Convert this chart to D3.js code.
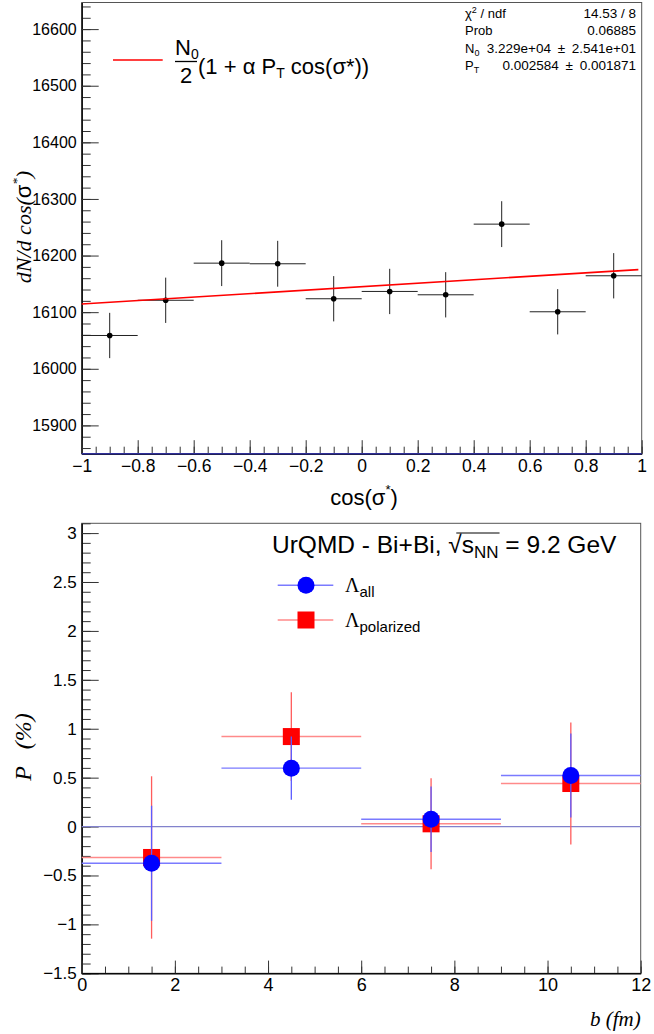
<!DOCTYPE html>
<html>
<head>
<meta charset="utf-8">
<script src="https://cdn.jsdelivr.net/npm/d3@7"></script>
<style>
  body { margin: 0; background: #fff; }
  svg { display: block; }
  .sans { font-family: "Liberation Sans", Arial, Helvetica, sans-serif; }
  .serif { font-family: "Liberation Serif", "Times New Roman", serif; }
</style>
</head>
<body>
<div id="chart"></div>
<script>
// ---- data: top pad (histogram + fit) ----
var topBins = [-0.9, -0.7, -0.5, -0.3, -0.1, 0.1, 0.3, 0.5, 0.7, 0.9];
var topCounts = [16058.8, 16121, 16186.6, 16185.5, 16123.7, 16136.6, 16130.7, 16255.5, 16100.7, 16164.3];
var topErrors = [40, 40, 40.5, 40.5, 40, 40, 40, 40.5, 40, 40];
var binHalf = 0.1;
var fitN0 = 32290, fitAlpha = 0.732, fitPT = 0.002584;
var statLabels = ["χ2 / ndf", "Prob", "N0", "PT"];
var statValues = ["14.53 / 8", "0.06885", "3.229e+04\u2002±\u20022.541e+01", "0.002584\u2002±\u20020.001871"];
var topYTicks = [15900, 16000, 16100, 16200, 16300, 16400, 16500, 16600];
var topXTicks = [-1, -0.8, -0.6, -0.4, -0.2, 0, 0.2, 0.4, 0.6, 0.8, 1];

// ---- data: bottom pad (polarization vs b) ----
var bCenters = [1.5, 4.5, 7.5, 10.5];
var bHalf = 1.5;
var allP = [-0.375, 0.597, 0.075, 0.522];
var allErr = [0.588, 0.324, 0.335, 0.43];
var polP = [-0.316, 0.92, 0.028, 0.44];
var polErr = [0.83, 0.454, 0.465, 0.624];
var botYTicks = [-1.5, -1, -0.5, 0, 0.5, 1, 1.5, 2, 2.5, 3];
var botXTicks = [0, 2, 4, 6, 8, 10, 12];

var W = 654, H = 1034;
var svg = d3.select("#chart").append("svg")
  .attr("width", W).attr("height", H);

svg.append("rect").attr("width", W).attr("height", H).attr("fill", "#fff");

// scales
var xTop = d3.scaleLinear().domain([-1, 1]).range([81.7, 641.7]);
var yTop = d3.scaleLinear().domain([15850, 16647]).range([453.7, 2.5]);
var xBot = d3.scaleLinear().domain([0, 12]).range([81.7, 640.7]);
var yBot = d3.scaleLinear().domain([-1.5, 3.1]).range([973.3, 523.3]);

// helper: draw an axis with major + minor ticks pointing into the frame
function drawAxis(kind, scale, pos, majors, minorStep, majLen, minLen, fmt, fontSize, pad) {
  var isLeft = kind == "left";
  var minors = [];
  var d = scale.domain();
  var lo = Math.min(d[0], d[1]), hi = Math.max(d[0], d[1]);
  for (var v = Math.ceil(lo / minorStep - 1e-6) * minorStep; v <= hi + 1e-9; v += minorStep) {
    minors.push(+v.toFixed(6));
  }
  var minorAxis = (isLeft ? d3.axisLeft(scale) : d3.axisBottom(scale))
    .tickValues(minors).tickSizeInner(-minLen).tickSizeOuter(0).tickFormat("");
  var majorAxis = (isLeft ? d3.axisLeft(scale) : d3.axisBottom(scale))
    .tickValues(majors).tickSizeInner(-majLen).tickSizeOuter(0)
    .tickPadding(pad).tickFormat(fmt);
  var tr = isLeft ? "translate(" + pos + ",0)" : "translate(0," + pos + ")";
  var gm = svg.append("g").attr("transform", tr).call(minorAxis);
  var gM = svg.append("g").attr("transform", tr).call(majorAxis);
  [gm, gM].forEach(function(g) {
    g.selectAll(".tick line").attr("stroke", "#333").attr("stroke-width", 1);
    g.select(".domain").attr("stroke", "#000").attr("stroke-width", 1);
  });
  gM.selectAll(".tick text")
    .attr("font-family", "Liberation Sans, Arial, sans-serif")
    .attr("font-size", fontSize)
    .attr("fill", "#000");
  return gM;
}

var minusFmt = function(v) { return d3.format("")(v).replace("-", "\u2212"); };

// ================= TOP PAD =================
svg.append("rect")
  .attr("x", xTop(-1)).attr("y", yTop(16647))
  .attr("width", xTop(1) - xTop(-1)).attr("height", yTop(15850) - yTop(16647))
  .attr("fill", "none").attr("stroke", "#555").attr("stroke-width", 1);

drawAxis("left", yTop, xTop(-1), topYTicks, 20, 17, 9, d3.format("d"), 16, 5);
drawAxis("bottom", xTop, yTop(15850), topXTicks, 0.05, 13.5, 7, minusFmt, 17.5, 5.5);

// blue line along the bottom
svg.append("line")
  .attr("x1", xTop(-1)).attr("x2", xTop(1))
  .attr("y1", yTop(15850)).attr("y2", yTop(15850))
  .attr("stroke", "#2f2f9a").attr("stroke-width", 1.6);

// error bars + points
var gTop = svg.append("g");
topBins.forEach(function(x, i) {
  gTop.append("line")
    .attr("x1", xTop(x - binHalf)).attr("x2", xTop(x + binHalf))
    .attr("y1", yTop(topCounts[i])).attr("y2", yTop(topCounts[i]))
    .attr("stroke", "#222").attr("stroke-width", 1);
  gTop.append("line")
    .attr("x1", xTop(x)).attr("x2", xTop(x))
    .attr("y1", yTop(topCounts[i] - topErrors[i])).attr("y2", yTop(topCounts[i] + topErrors[i]))
    .attr("stroke", "#222").attr("stroke-width", 1);
  gTop.append("circle")
    .attr("cx", xTop(x)).attr("cy", yTop(topCounts[i])).attr("r", 2.8)
    .attr("fill", "#000");
});

// fit line
function fitF(c) { return fitN0 / 2 * (1 + fitAlpha * fitPT * c); }
var fitPts = [-1, 0.988].map(function(c) { return [c, fitF(c)]; });
svg.append("path")
  .attr("d", d3.line().x(function(d) { return xTop(d[0]); }).y(function(d) { return yTop(d[1]); })(fitPts))
  .attr("fill", "none").attr("stroke", "#f00").attr("stroke-width", 1.6);

// legend of fit
svg.append("line").attr("x1", 113).attr("x2", 162.7).attr("y1", 60).attr("y2", 60)
  .attr("stroke", "#f00").attr("stroke-width", 1.6);
var leg = svg.append("g").attr("class", "sans").attr("font-size", 22);
var numT = leg.append("text").attr("x", 175).attr("y", 55);
numT.append("tspan").text("N");
numT.append("tspan").attr("font-size", 14).attr("dy", 4).text("0");
leg.append("line").attr("x1", 175).attr("x2", 197).attr("y1", 61.5).attr("y2", 61.5)
  .attr("stroke", "#000").attr("stroke-width", 1.3);
leg.append("text").attr("x", 186).attr("y", 82.5).attr("text-anchor", "middle").text("2");
var fT = leg.append("text").attr("x", 198).attr("y", 74);
fT.append("tspan").text("(1 + α P");
fT.append("tspan").attr("font-size", 14).attr("dy", 4).text("T");
fT.append("tspan").attr("dy", -4).text(" cos(σ*))");

// stats box
var st = svg.append("g").attr("class", "sans");
statLabels.forEach(function(lab, i) {
  var y = 18 + i * 17.3;
  var t = st.append("text").attr("x", 465).attr("y", y).attr("font-size", 13);
  if (i == 0) {
    t.append("tspan").text("χ");
    t.append("tspan").attr("font-size", 9).attr("dy", -5).text("2");
    t.append("tspan").attr("dy", 5).text(" / ndf");
  } else if (i == 1) {
    t.text(lab);
  } else {
    t.append("tspan").text(lab[0]);
    t.append("tspan").attr("font-size", 9).attr("dy", 3).text(lab[1]);
  }
  st.append("text").attr("x", 636).attr("y", y).attr("text-anchor", "end")
    .attr("font-size", 13.5).text(statValues[i]);
});

// axis titles
var ytT = svg.append("text").attr("class", "serif").attr("font-size", 22)
  .attr("font-style", "italic").attr("text-anchor", "middle")
  .attr("transform", "translate(31,227) rotate(-90)");
ytT.append("tspan").text("dN/d cos(");
ytT.append("tspan").attr("font-style", "normal").attr("class", "sans").text("σ");
ytT.append("tspan").attr("font-size", 13).attr("dy", -10).text("*");
ytT.append("tspan").attr("dy", 10).text(")");

var xtT = svg.append("text").attr("class", "sans").attr("font-size", 22)
  .attr("text-anchor", "middle").attr("x", 364).attr("y", 505);
xtT.append("tspan").text("cos(σ");
xtT.append("tspan").attr("font-size", 13).attr("dy", -11).text("*");
xtT.append("tspan").attr("dy", 11).text(")");

// ================= BOTTOM PAD =================
svg.append("rect")
  .attr("x", xBot(0)).attr("y", yBot(3.1))
  .attr("width", xBot(12) - xBot(0)).attr("height", yBot(-1.5) - yBot(3.1))
  .attr("fill", "none").attr("stroke", "#555").attr("stroke-width", 1);

drawAxis("left", yBot, xBot(0), botYTicks, 0.1, 17, 9, minusFmt, 17, 5);
drawAxis("bottom", xBot, yBot(-1.5), botXTicks, 0.5, 12.7, 6.7, d3.format("d"), 18, 5);

// zero line
svg.append("line")
  .attr("x1", xBot(0)).attr("x2", xBot(12)).attr("y1", yBot(0)).attr("y2", yBot(0))
  .attr("stroke", "#8282cc").attr("stroke-width", 1.3);

function drawSeries(vals, errs, hColor, vColor, color, marker) {
  var g = svg.append("g");
  bCenters.forEach(function(x, i) {
    g.append("line")
      .attr("x1", xBot(x - bHalf)).attr("x2", xBot(x + bHalf))
      .attr("y1", yBot(vals[i])).attr("y2", yBot(vals[i]))
      .attr("stroke", hColor).attr("stroke-width", 1.4);
    g.append("line")
      .attr("x1", xBot(x)).attr("x2", xBot(x))
      .attr("y1", yBot(vals[i] - errs[i])).attr("y2", yBot(vals[i] + errs[i]))
      .attr("stroke", vColor).attr("stroke-width", 1.3);
  });
  bCenters.forEach(function(x, i) {
    if (marker == "square") {
      g.append("rect").attr("x", xBot(x) - 8.5).attr("y", yBot(vals[i]) - 8.5)
        .attr("width", 17).attr("height", 17).attr("fill", color);
    } else {
      g.append("circle").attr("cx", xBot(x)).attr("cy", yBot(vals[i])).attr("r", 8.5)
        .attr("fill", color);
    }
  });
}
drawSeries(polP, polErr, "#ff8a8a", "#ff5c5c", "#f00", "square");
drawSeries(allP, allErr, "#7a7aff", "#5c5cff", "#00f", "circle");

// legend
var lg = svg.append("g").attr("class", "sans");
var ttl = lg.append("text").attr("x", 272).attr("y", 553.3).attr("font-size", 24.5);
ttl.append("tspan").text("UrQMD - Bi+Bi, ");
ttl.append("tspan").text("√");
ttl.append("tspan").text("s");
ttl.append("tspan").attr("font-size", 17).attr("dy", 5).text("NN");
ttl.append("tspan").attr("dy", -5).text(" = 9.2 GeV");
// overline for the square root
var node = ttl.node();
var nChars = "UrQMD - Bi+Bi, ".length;
var s1 = node.getEndPositionOfChar(nChars + 3).x;
lg.append("line").attr("x1", node.getStartPositionOfChar(nChars).x + 8).attr("x2", s1 + 1)
  .attr("y1", 533).attr("y2", 533).attr("stroke", "#000").attr("stroke-width", 1);

[["all", "#00f", "#7a7aff", "circle", 585.3], ["polarized", "#f00", "#ff8a8a", "square", 620]].forEach(function(e) {
  lg.append("line").attr("x1", 277.7).attr("x2", 333.3).attr("y1", e[4]).attr("y2", e[4])
    .attr("stroke", e[2]).attr("stroke-width", 1.4);
  if (e[3] == "circle") {
    lg.append("circle").attr("cx", 306).attr("cy", e[4]).attr("r", 8.5).attr("fill", e[1]);
  } else {
    lg.append("rect").attr("x", 306 - 8.5).attr("y", e[4] - 8.5).attr("width", 17).attr("height", 17)
      .attr("fill", e[1]);
  }
  var t = lg.append("text").attr("x", 345).attr("y", e[4] + 6.5);
  t.append("tspan").attr("class", "serif").attr("font-size", 20).text("Λ");
  t.append("tspan").attr("font-size", 15).attr("dy", 5).text(e[0]);
});

// axis titles
var pT = svg.append("text").attr("class", "serif").attr("font-size", 24)
  .attr("font-style", "italic").attr("text-anchor", "middle")
  .attr("transform", "translate(31,747) rotate(-90)");
pT.append("tspan").text("P");
pT.append("tspan").attr("dx", 17).text("(%)");

svg.append("text").attr("class", "serif").attr("font-size", 21)
  .attr("font-style", "italic").attr("text-anchor", "end")
  .attr("x", 640.7).attr("y", 1026).text("b (fm)");
</script>
</body>
</html>
